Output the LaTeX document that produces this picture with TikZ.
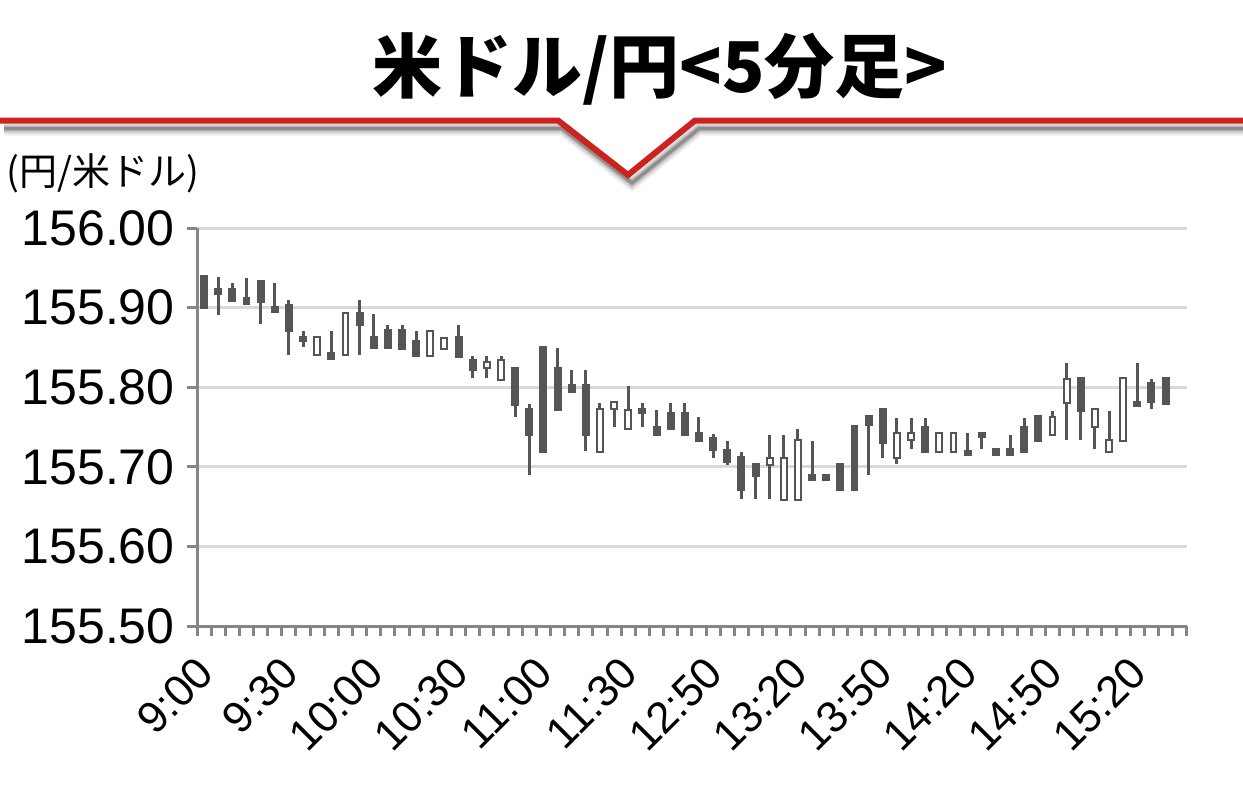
\documentclass[tikz,border=0pt]{standalone}
\usepackage{fontspec}
\setmainfont{Liberation Sans}
\newfontfamily\jpfont{Noto Sans CJK JP}
\usepackage{tikz}
\usepackage{xcolor}

\definecolor{candlegray}{HTML}{555555}
\definecolor{gridgray}{HTML}{D9D9D9}
\definecolor{axisgray}{HTML}{868686}
\definecolor{linered}{HTML}{CC2320}

\tikzset{
    wick/.style={draw=candlegray, line width=1.5pt},
    candlebody/.style={draw=candlegray, line width=1pt},
    gridline/.style={draw=gridgray, line width=1.5pt},
    axisline/.style={draw=axisgray, line width=1.5pt},
    pricelabel/.style={font=\fontsize{25}{25}\selectfont, anchor=east, inner sep=0pt},
    timelabel/.style={font=\fontsize{22}{22}\selectfont, anchor=east, rotate=45, inner sep=0pt}
}

\begin{document}
\begin{tikzpicture}[x=0.5pt, y=-0.5pt]
    \useasboundingbox (0, 0) rectangle (1243, 787);

    \node[font=\jpfont\bfseries\fontsize{35}{35}\selectfont] (title) at (660, 69) {米ドル/円<5分足>};

    \coordinate (la) at (0, 120.5);
    \coordinate (lb) at (558, 120.5);
    \coordinate (lv) at (628, 175);
    \coordinate (lc) at (695, 120.5);
    \coordinate (ld) at (1243, 120.5);

    % shadow under the red line
    \foreach \w/\op in {14/0.06, 10/0.10, 6/0.16, 3/0.22}
        \draw[black, opacity=\op, line width=\w*0.5pt, line join=miter,
              transform canvas={xshift=2pt, yshift=-4pt}]
            (la) -- (lb) -- (lv) -- (lc) -- (ld);
    \draw[linered, line width=3pt, line join=miter] (la) -- (lb) -- (lv) -- (lc) -- (ld);

    \node[font=\jpfont\fontsize{19}{19}\selectfont, anchor=west, inner sep=0pt] (unit) at (6, 173) {(円/米ドル)};

    \begin{scope}[shift={(197, 626)}, x=7.07pt, y=398pt]
        \foreach \p in {0.1, 0.2, 0.3, 0.4, 0.5}
            \draw[gridline] (0, \p) -- (70, \p);
        \foreach \p/\t in {0/155.50, 0.1/155.60, 0.2/155.70, 0.3/155.80, 0.4/155.90, 0.5/156.00} {
            \draw[axisline] (0, \p) -- ++(-5pt, 0);
            \node[pricelabel] (p\t) at ([xshift=-11pt]0, \p) {\t};
        }
        \draw[axisline] (0, 0.5) -- (0, 0) -- (70, 0);
        \foreach \k in {0, ..., 70}
            \draw[axisline] (\k, 0) -- ++(0, -5pt);
        \foreach \t [count=\k from 0] in {9:00, 9:30, 10:00, 10:30, 11:00, 11:30, 12:50, 13:20, 13:50, 14:20, 14:50, 15:20}
            \node[timelabel] (t\k) at (6*\k+0.6, -0.049) {\t};

        % candles: open/high/low/close
        \foreach \o/\h/\l/\c [count=\i from 0] in {
            155.940/155.940/155.900/155.900, 155.923/155.938/155.891/155.917,
            155.924/155.931/155.908/155.908, 155.912/155.937/155.904/155.904,
            155.933/155.933/155.880/155.907, 155.901/155.931/155.895/155.895,
            155.903/155.910/155.840/155.870, 155.863/155.870/155.851/155.858,
            155.840/155.863/155.840/155.863, 155.843/155.870/155.835/155.835,
            155.840/155.893/155.840/155.893, 155.893/155.910/155.840/155.878,
            155.863/155.892/155.849/155.849, 155.872/155.878/155.849/155.849,
            155.872/155.878/155.848/155.848, 155.858/155.870/155.839/155.839,
            155.839/155.871/155.839/155.871, 155.848/155.862/155.848/155.862,
            155.863/155.878/155.838/155.838, 155.834/155.839/155.811/155.822,
            155.824/155.839/155.811/155.832, 155.809/155.839/155.809/155.834,
            155.824/155.824/155.763/155.778, 155.773/155.779/155.690/155.740,
            155.851/155.851/155.719/155.719, 155.824/155.849/155.771/155.771,
            155.803/155.822/155.794/155.794, 155.803/155.822/155.720/155.740,
            155.719/155.780/155.719/155.773, 155.772/155.781/155.750/155.781,
            155.748/155.802/155.748/155.771, 155.772/155.780/155.750/155.767,
            155.750/155.771/155.740/155.740, 155.767/155.780/155.748/155.748,
            155.767/155.780/155.740/155.740, 155.742/155.762/155.732/155.732,
            155.736/155.741/155.711/155.721, 155.721/155.732/155.702/155.706,
            155.712/155.719/155.660/155.671, 155.703/155.703/155.660/155.688,
            155.702/155.740/155.660/155.711, 155.658/155.740/155.658/155.711,
            155.658/155.748/155.658/155.734, 155.690/155.732/155.684/155.684,
            155.690/155.690/155.684/155.684, 155.704/155.704/155.671/155.671,
            155.751/155.751/155.671/155.671, 155.764/155.764/155.690/155.753,
            155.772/155.772/155.711/155.730, 155.711/155.761/155.704/155.742,
            155.734/155.761/155.722/155.742, 155.750/155.761/155.719/155.719,
            155.719/155.742/155.719/155.742, 155.719/155.742/155.719/155.742,
            155.720/155.742/155.715/155.715, 155.742/155.742/155.722/155.738,
            155.722/155.722/155.715/155.715, 155.722/155.740/155.715/155.715,
            155.750/155.761/155.719/155.719, 155.764/155.764/155.732/155.732,
            155.740/155.770/155.740/155.763, 155.780/155.831/155.734/155.810,
            155.811/155.811/155.734/155.770, 155.750/155.772/155.722/155.772,
            155.719/155.770/155.719/155.734, 155.733/155.811/155.733/155.811,
            155.781/155.831/155.776/155.776, 155.805/155.810/155.772/155.782,
            155.811/155.811/155.779/155.779} {
            \ifdim\c pt<\o pt \def\bodyfill{candlegray}\else\def\bodyfill{white}\fi
            \draw[wick] (\i+0.5, \l-155.5) -- (\i+0.5, \h-155.5);
            \draw[candlebody, fill=\bodyfill] (\i+0.29, \o-155.5) rectangle (\i+0.71, \c-155.5);
        }
    \end{scope}
\end{tikzpicture}
\end{document}
